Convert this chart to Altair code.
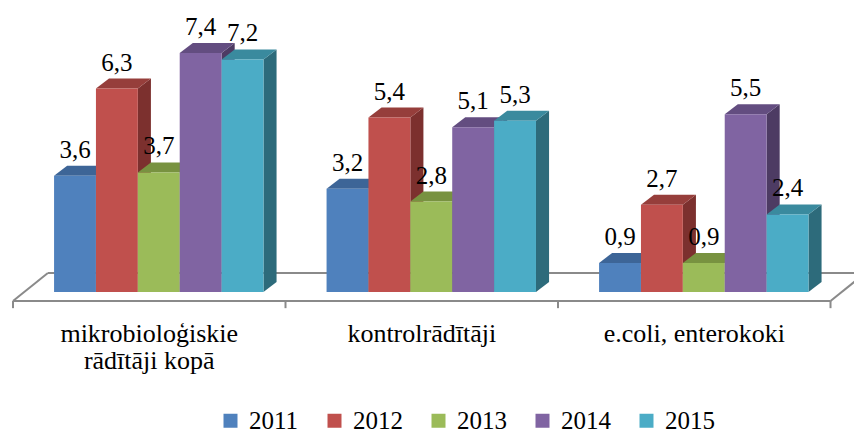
import altair as alt
import pandas as pd

# ---- data ----
categories = ["mikrobioloģiskie\nrādītāji kopā", "kontrolrādītāji", "e.coli, enterokoki"]
years = ["2011", "2012", "2013", "2014", "2015"]
v2011 = [3.6, 3.2, 0.9]
v2012 = [6.3, 5.4, 2.7]
v2013 = [3.7, 2.8, 0.9]
v2014 = [7.4, 5.1, 5.5]
v2015 = [7.2, 5.3, 2.4]
series = [v2011, v2012, v2013, v2014, v2015]
value_labels = [[f"{v:.1f}".replace(".", ",") for v in s] for s in series]

front_colors = ["#4F81BD", "#C0504D", "#9BBB59", "#8064A2", "#4BACC6"]
top_colors = ["#3D6597", "#963E3B", "#789240", "#634D80", "#3A8A9E"]
side_colors = ["#2F4E74", "#7C302E", "#5E7431", "#4D3B63", "#2D6B7B"]

FONT = "Liberation Serif"

# ---- 3D geometry (in scale units) ----
BAR_START = 0.1507
BAR_W = 0.1537
DX = 0.048
DY = 0.31
FLOOR_FRONT = -0.28
FLOOR_BACK = 0.59
FLOOR_SHIFT = 0.128
TICK_LEN = 0.22

W, H = 854, 434
xscale = alt.Scale(domain=[-0.0477, 3.0862], nice=False, zero=False)
yscale = alt.Scale(domain=[-4.396, 9.040], nice=False, zero=False)

fronts, sides, tops = [], [], []
bar_id = 0
for j, (yr, s) in enumerate(zip(years, series)):
    for i, v in enumerate(s):
        left = i + BAR_START + j * BAR_W
        right = left + BAR_W
        fronts.append(dict(year=yr, x=left, x2=right, y=0.0, y2=v,
                           lab=value_labels[j][i], xc=(left + right) / 2))
        sides.append(dict(bid=bar_id, c=side_colors[j], x=right, y=0.0, y2=v))
        sides.append(dict(bid=bar_id, c=side_colors[j], x=right + DX, y=DY, y2=v + DY))
        tops.append(dict(bid=bar_id, c=top_colors[j], x=left, y=v, y2=v))
        tops.append(dict(bid=bar_id, c=top_colors[j], x=left + DX, y=v, y2=v + DY))
        tops.append(dict(bid=bar_id, c=top_colors[j], x=right, y=v, y2=v + DY))
        tops.append(dict(bid=bar_id, c=top_colors[j], x=right + DX, y=v + DY, y2=v + DY))
        bar_id += 1

df_front = pd.DataFrame(fronts)
df_side = pd.DataFrame(sides)
df_top = pd.DataFrame(tops)

n = len(categories)
floor_segs = [
    dict(x=0, x2=n, y=FLOOR_FRONT, y2=FLOOR_FRONT),
    dict(x=FLOOR_SHIFT, x2=n + FLOOR_SHIFT, y=FLOOR_BACK, y2=FLOOR_BACK),
    dict(x=0, x2=FLOOR_SHIFT, y=FLOOR_FRONT, y2=FLOOR_BACK),
    dict(x=n, x2=n + FLOOR_SHIFT, y=FLOOR_FRONT, y2=FLOOR_BACK),
]
for k in range(n + 1):
    floor_segs.append(dict(x=k, x2=k, y=FLOOR_FRONT, y2=FLOOR_FRONT - TICK_LEN))
df_floor = pd.DataFrame(floor_segs)

df_cat = pd.DataFrame(dict(cat=categories, x=[i + 0.5 for i in range(n)], y=[FLOOR_FRONT] * n))

X = lambda f: alt.X(f, type="quantitative", scale=xscale, axis=None)
Y = lambda f: alt.Y(f, type="quantitative", scale=yscale, axis=None)

floor = alt.Chart(df_floor).mark_rule(color="#8A8A8A", strokeWidth=2).encode(
    x=X("x"), x2="x2", y=Y("y"), y2="y2")

side = alt.Chart(df_side).mark_area(orient="vertical", opacity=1).encode(
    x=X("x"), y=Y("y"), y2="y2", detail="bid:N", color=alt.Color("c:N", scale=None))

top = alt.Chart(df_top).mark_area(orient="vertical", opacity=1).encode(
    x=X("x"), y=Y("y"), y2="y2", detail="bid:N", color=alt.Color("c:N", scale=None))

front = alt.Chart(df_front).mark_rect().encode(
    x=X("x"), x2="x2", y=Y("y"), y2="y2",
    color=alt.Color("year:N", scale=alt.Scale(domain=years, range=front_colors),
                    legend=alt.Legend(title=None, orient="none", legendX=218, legendY=408,
                                      direction="horizontal", columns=5,
                                      symbolType="square", symbolSize=196,
                                      symbolStrokeWidth=0, symbolOpacity=1,
                                      labelFont=FONT, labelFontSize=25,
                                      labelFontWeight="normal",
                                      labelColor="#000000", labelOffset=6,
                                      columnPadding=23, padding=0)))

labels = alt.Chart(df_front).mark_text(
    font=FONT, fontSize=25, fontWeight="normal", fontStyle="normal",
    color="#000000", baseline="alphabetic", dy=-18
).encode(x=X("xc"), y=Y("y2"), text=alt.Text("lab:N"))

cat_text = alt.Chart(df_cat).mark_text(
    font=FONT, fontSize=26, fontWeight="normal", fontStyle="normal",
    color="#000000", baseline="alphabetic",
    dy=41, lineBreak="\n", lineHeight=27
).encode(x=X("x"), y=Y("y"), text=alt.Text("cat:N"))

chart = alt.layer(floor, side, top, front, labels, cat_text).properties(
    width=W, height=H, padding=0, autosize=alt.AutoSizeParams(type="none"),
    background="#FFFFFF"
).configure_view(stroke=None)

chart.save("out.html", embed_options={"renderer": "svg", "actions": False})
